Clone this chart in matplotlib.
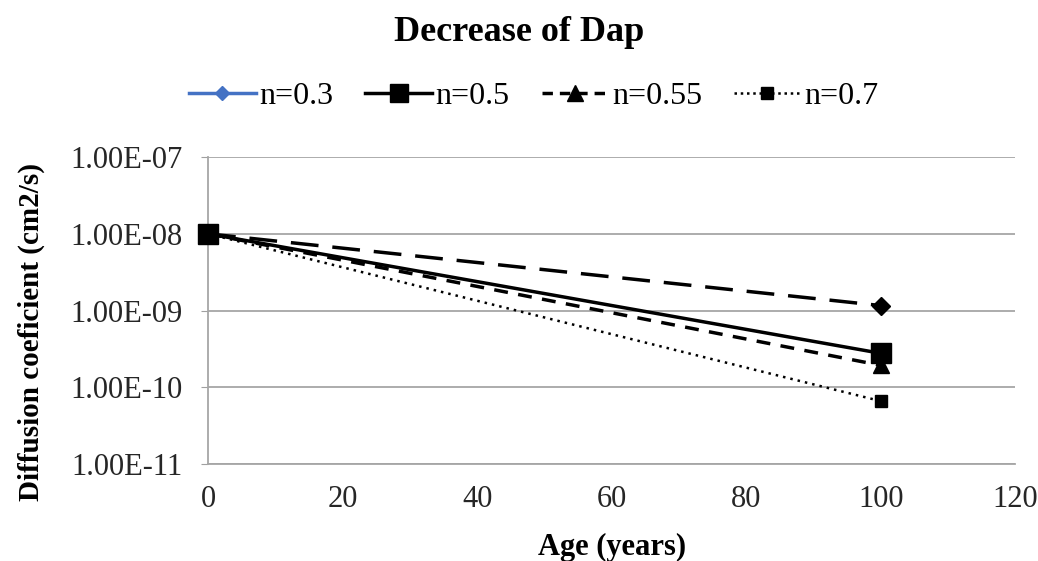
import matplotlib.pyplot as plt
from matplotlib.lines import Line2D

plt.rcParams['font.family'] = ['Liberation Serif', 'DejaVu Serif']

ages = [0, 100]
d_n03 = [1.0e-8, 1.16e-9]
d_n05 = [1.0e-8, 2.77e-10]
d_n055 = [1.0e-8, 1.93e-10]
d_n07 = [1.0e-8, 6.6e-11]
labels = ["n=0.3", "n=0.5", "n=0.55", "n=0.7"]

xticks = [0, 20, 40, 60, 80, 100, 120]
yticks = [1e-11, 1e-10, 1e-9, 1e-8, 1e-7]
ytick_labels = ["1.00E-11", "1.00E-10", "1.00E-09", "1.00E-08", "1.00E-07"]

fig = plt.figure(figsize=(10.38, 5.61), dpi=100)
ax = fig.add_axes([0.2004, 0.173, 0.7776, 0.547])

ax.plot(ages, d_n03, color="black", lw=2.5, dashes=(8, 4), marker="D", ms=9,
        zorder=3, clip_on=False)
ax.plot(ages, d_n05, color="black", lw=2.5, ls="-", marker="s", ms=14,
        zorder=4, clip_on=False)
ax.plot(ages, d_n055, color="black", lw=2.5, dashes=(4, 3), marker="^", ms=11,
        zorder=3, clip_on=False)
ax.plot(ages, d_n07, color="black", lw=1.8, ls=(0, (1, 2)), marker="s", ms=9,
        zorder=3, clip_on=False)

ax.set_yscale("log")
ax.set_xlim(0, 120)
ax.set_ylim(1e-11, 1e-7)
ax.set_xticks(xticks)
ax.set_yticks(yticks)
ax.set_yticklabels(ytick_labels)
ax.minorticks_off()
ax.tick_params(axis="x", length=0, labelsize=22, pad=15, colors="#262626")
ax.tick_params(axis="y", length=5, labelsize=22, pad=13, color="#a0a0a0",
               labelcolor="#262626")
ax.grid(axis="y", color="#a6a6a6", lw=1.3)
ax.set_axisbelow(True)
for side in ["top", "right"]:
    ax.spines[side].set_visible(False)
for side in ["left", "bottom"]:
    ax.spines[side].set_color("#a6a6a6")
    ax.spines[side].set_linewidth(1.3)

ax.set_xlabel("Age (years)", fontsize=22, fontweight="bold", labelpad=14)
ax.set_ylabel("Diffusion coeficient (cm2/s)", fontsize=21, fontweight="bold")
ax.yaxis.set_label_coords(-0.202, 0.43)

fig.suptitle("Decrease of Dap", fontsize=26, fontweight="bold", y=0.972)

handles = [
    Line2D([], [], color="#4472c4", lw=2.5, marker="D", ms=7),
    Line2D([], [], color="black", lw=2.5, marker="s", ms=13),
    Line2D([], [], color="black", lw=2.5, dashes=(3, 2), marker="^", ms=11),
    Line2D([], [], color="black", lw=1.8, ls=(0, (1, 1.5)), marker="s", ms=8),
]
fig.legend(handles, labels, loc="center", bbox_to_anchor=(0.514, 0.828), ncol=4,
           frameon=False, fontsize=23, handlelength=2.1, handletextpad=0.1,
           columnspacing=1.0)

fig.savefig("out.png", dpi=100)
